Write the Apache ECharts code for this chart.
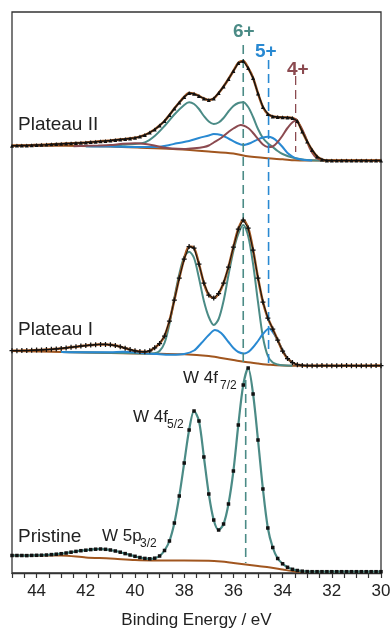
<!DOCTYPE html>
<html>
<head>
<meta charset="utf-8">
<script src="https://cdn.jsdelivr.net/npm/echarts@6/dist/echarts.min.js"></script>
<style>
  html, body { margin: 0; padding: 0; background: #fff; }
  #chart { width: 390px; height: 628px; }
</style>
</head>
<body>
<div id="chart"></div>
<script>
// binding energy grid of the measured points (eV)
const energy = [45, 44.8, 44.6, 44.4, 44.2, 44, 43.8, 43.6, 43.4, 43.2,
  43, 42.8, 42.6, 42.4, 42.2, 42, 41.8, 41.6, 41.4, 41.2,
  41, 40.8, 40.6, 40.4, 40.2, 40, 39.8, 39.6, 39.4, 39.2,
  39, 38.8, 38.6, 38.4, 38.2, 38, 37.8, 37.6, 37.4, 37.2,
  37, 36.8, 36.6, 36.4, 36.2, 36, 35.8, 35.6, 35.4, 35.2,
  35, 34.8, 34.6, 34.4, 34.2, 34, 33.8, 33.6, 33.4, 33.2,
  33, 32.8, 32.6, 32.4, 32.2, 32, 31.8, 31.6, 31.4, 31.2,
  31, 30.8, 30.6, 30.4, 30.2, 30]

// measured intensities (offset, arb. units)
const plateau2Counts = [427.3, 427.4, 427.5, 427.6, 427.8, 428.0, 428.2, 428.4, 428.7, 429.0,
  429.2, 429.5, 429.7, 430.0, 430.2, 430.5, 430.9, 431.3, 431.7, 432.1,
  432.5, 433.0, 433.5, 434.0, 434.6, 435.2, 436.4, 438.0, 440.5, 443.5,
  447.5, 452.0, 458.0, 464.5, 470.5, 476.0, 480.0, 479.2, 477.0, 474.5,
  473.0, 474.5, 480.0, 486.5, 494.0, 502.0, 510.0, 512.0, 505.0, 495.0,
  479.5, 466.0, 459.0, 456.5, 456.0, 455.7, 455.5, 455.0, 452.0, 441.5,
  431.5, 423.0, 416.5, 413.5, 412.5, 412.5, 412.4, 412.6, 412.5, 412.4,
  412.5, 412.6, 412.5, 412.4, 412.5, 412.5]

const plateau1Counts = [222.3, 222.3, 222.4, 222.5, 222.7, 222.9, 223.1, 223.4, 223.7, 224.1,
  224.6, 225.1, 225.7, 226.3, 226.9, 227.4, 227.9, 228.3, 228.6, 228.6,
  228.2, 227.4, 226.3, 224.8, 223.4, 222.2, 221.4, 221.2, 222.2, 225.2,
  229.5, 237.0, 252.0, 273.0, 295.0, 314.0, 326.5, 325.0, 309.0, 290.0,
  278.0, 275.0, 279.5, 290.0, 306.0, 326.0, 344.0, 353.0, 345.0, 323.0,
  295.0, 271.0, 255.0, 244.0, 233.0, 222.0, 214.5, 210.5, 208.3, 207.6,
  207.3, 207.3, 207.2, 207.4, 207.3, 207.3, 207.2, 207.3, 207.4, 207.3,
  207.3, 207.2, 207.3, 207.3, 207.4, 207.3]

const pristineCounts = [17.5, 17.5, 17.5, 17.4, 17.6, 17.7, 17.8, 18.0, 18.4, 18.8,
  19.3, 20.0, 20.8, 21.6, 22.3, 22.8, 23.4, 23.8, 24.0, 23.7,
  23.0, 22.0, 20.8, 19.4, 18.0, 16.7, 15.5, 14.6, 14.2, 14.8,
  17.0, 22.5, 32.0, 50.0, 77.0, 110.0, 143.0, 162.0, 152.0, 116.0,
  79.0, 53.0, 43.0, 49.0, 69.0, 102.0, 148.0, 188.0, 205.0, 179.0,
  133.0, 84.0, 45.0, 25.5, 14.5, 9.2, 5.7, 3.7, 2.5, 1.8,
  1.4, 1.3, 1.3, 1.3, 1.3, 1.3, 1.3, 1.3, 1.3, 1.3,
  1.3, 1.3, 1.3, 1.3, 1.3, 1.3]

// fitted components [energy, intensity]
const plateau2Bg = [[45, 427.5], [43, 427.2], [41, 426.5], [39.5, 425], [38.3, 423.7], [37, 421.5],
  [36, 419.5], [35.5, 417], [34.6, 414.7], [34, 413.7], [33.5, 412.7], [33, 412.5], [30, 412.5]]
const plateau2W6 = [[42, 426.7], [41, 427.2], [40.5, 428.2], [40, 429], [39.6, 430.5], [39.2, 437],
  [38.8, 447], [38.4, 458.5], [38, 468], [37.8, 470.7], [37.6, 469], [37.4, 464], [37.2, 457],
  [37, 451.5], [36.8, 449], [36.6, 450.5], [36.4, 455], [36.2, 461.5], [36, 467], [35.8, 470],
  [35.6, 470.7], [35.4, 466], [35.2, 456], [35, 444], [34.8, 435], [34.6, 429.7], [34.4, 426],
  [34.2, 422], [34, 419], [33.6, 415.5], [33.2, 413.5], [32.8, 412.7], [32, 412.5]]
const plateau2W5 = [[42, 426.7], [41, 426.5], [40, 426], [39, 426.3], [38.6, 428], [38.3, 429.7],
  [37.8, 432], [37.4, 435], [37, 437.5], [36.8, 439], [36.5, 438], [36.2, 434.5], [35.9, 430.5],
  [35.6, 428], [35.3, 430], [35, 433.7], [34.8, 435.5], [34.6, 436.3], [34.4, 435], [34.2, 431.3],
  [34, 426], [33.8, 420], [33.6, 416.5], [33.4, 414.2], [33.1, 413], [32.8, 412.5]]
const plateau2W4 = [[42.5, 426.8], [41.5, 427.5], [41, 428], [40.5, 429.2], [40, 429.8], [39.5, 428.8],
  [39, 426.3], [38.5, 424.5], [38, 424], [37.6, 424.7], [37.2, 426], [37, 427.5], [36.8, 430.5],
  [36.5, 435], [36.2, 441], [36, 444.5], [35.7, 448], [35.4, 445], [35.2, 440], [35, 434],
  [34.8, 428.5], [34.6, 426], [34.4, 426.5], [34.2, 431], [34, 437.5], [33.8, 445], [33.5, 452],
  [33.3, 448], [33.1, 438], [32.9, 425], [32.7, 417], [32.5, 413.5], [32.3, 412.5]]

const plateau1Bg = [[45, 222], [43, 221], [41, 220], [39, 219.2], [38, 218.8], [37, 217], [36.5, 215],
  [36, 213], [35.5, 211], [35, 209.5], [34.5, 208.2], [34, 207.5], [33.5, 207.3], [30, 207.3]]
const plateau1W6 = [[43, 221], [41, 220.2], [40, 219.8], [39.4, 219.4], [39.2, 219.7], [39, 222],
  [38.8, 230], [38.6, 249], [38.4, 275], [38.2, 299], [38, 316], [37.8, 321.3], [37.6, 315],
  [37.4, 295], [37.2, 272], [37, 256], [36.8, 248], [36.6, 254], [36.4, 272], [36.2, 298],
  [36, 322], [35.8, 339], [35.6, 348], [35.4, 337], [35.2, 309], [35, 271], [34.8, 236],
  [34.6, 217], [34.4, 210.5], [34.2, 208.5], [34, 207.7], [33.6, 207.3]]
const plateau1W5 = [[43, 221], [42, 220.7], [41, 220.7], [40.5, 221.2], [40, 220.7], [39.5, 219.5],
  [39, 218.8], [38.5, 218.2], [38, 219], [37.6, 222.5], [37.3, 230], [37, 238], [36.75, 243],
  [36.5, 240], [36.2, 231], [36, 225], [35.8, 221], [35.56, 219.5], [35.3, 223], [35, 232],
  [34.8, 239], [34.55, 244.5], [34.3, 237], [34, 223], [33.8, 214.5], [33.5, 209], [33.2, 207.5],
  [32.8, 207.3]]

const pristineBg = [[45, 17.5], [43.5, 17.5], [43, 17.5], [42, 15.5], [41, 14.5], [40, 13], [39, 12.5],
  [37, 12.3], [36.5, 11.5], [36, 10], [35.5, 8.5], [35, 7], [34.5, 5.5], [34, 3.5], [33.5, 1.6],
  [33, 1.3], [30, 1.3]]

// oxidation state reference lines
const stateNames = ['6+', '5+', '4+']
const stateEnergy = [35.6, 34.57, 33.47]
const stateTop = [528, 513, 497]
const stateBottom = [207, 208, 421]
const pristineLine = [[35.5, 193], [35.5, 10]]

const teal = '#4b8b86'
const blue = '#2989d2'
const wine = '#8b4a50'
const brown = '#a1561f'
const ink = '#222'
const font = 'Liberation Sans, Arial, Helvetica, sans-serif'

const pairs = (vals) => energy.map((e, i) => [e, vals[i]])

function comp(data, color, width) {
  return {
    type: 'line', data, smooth: 0.3, symbol: 'none', silent: true,
    lineStyle: { color, width: width || 2 }
  }
}

function points(vals, symbol, size, lineWidth) {
  return {
    type: 'line', data: pairs(vals), symbol, symbolSize: size, showAllSymbol: true,
    itemStyle: { color: '#111' }, silent: true, z: 5,
    lineStyle: { color: '#111', width: lineWidth, opacity: lineWidth ? 1 : 0 }
  }
}

function dashed(data, color, dash, width) {
  return {
    type: 'line', data, symbol: 'none', silent: true, z: 4,
    lineStyle: { color, width: width || 1.6, type: dash }
  }
}

const series = [
  // Plateau II
  comp(plateau2Bg, brown),
  comp(plateau2W6, teal),
  comp(plateau2W5, blue),
  comp(plateau2W4, wine),
  comp(pairs(plateau2Counts), brown, 2.5),
  points(plateau2Counts, 'triangle', 4, 1.3),
  // Plateau I
  comp(plateau1Bg, brown),
  comp(plateau1W6, teal),
  comp(plateau1W5, blue),
  comp(pairs(plateau1Counts), brown, 2.5),
  points(plateau1Counts, 'path://M3,0H5V3H8V5H5V8H3V5H0V3H3Z', 5, 1),
  // Pristine
  comp(pristineBg, brown),
  comp(pairs(pristineCounts), teal, 2.2),
  points(pristineCounts, 'rect', 3.5, 0),
  // reference lines
  dashed([[stateEnergy[0], stateTop[0]], [stateEnergy[0], stateBottom[0]]], teal, [9, 5]),
  dashed([[stateEnergy[1], stateTop[1]], [stateEnergy[1], stateBottom[1]]], blue, [9, 5]),
  dashed([[stateEnergy[2], stateTop[2]], [stateEnergy[2], stateBottom[2]]], wine, [9, 5], 1.3),
  dashed(pristineLine, teal, [9, 5])
]

function label(text, x, y, size, color, weight) {
  return {
    type: 'text', x, y, silent: true,
    style: { text, fill: color || ink, fontSize: size, fontWeight: weight || 'normal',
      fontFamily: font, verticalAlign: 'middle', align: 'left' }
  }
}

const stateColors = [teal, blue, wine]
const stateLabelPos = [[233, 32], [255, 52], [287, 70]]

const chart = echarts.init(document.getElementById('chart'))
chart.setOption({
  animation: false,
  backgroundColor: '#fff',
  grid: {
    left: 12, right: 9, top: 12, bottom: 55, show: true, borderColor: '#333', borderWidth: 1.3,
    containLabel: false, outerBoundsMode: 'none'
  },
  xAxis: {
    type: 'value', min: 30, max: 45, interval: 0.5, inverse: true,
    name: 'Binding Energy / eV', nameLocation: 'middle', nameGap: 39,
    nameTextStyle: { fontSize: 17, color: ink, fontFamily: font },
    axisLine: { lineStyle: { color: '#333', width: 1.3 } },
    axisTick: { length: 5, lineStyle: { color: '#333', width: 1.2 } },
    axisLabel: {
      fontSize: 17, color: ink, fontFamily: font, margin: 10,
      formatter: (v) => (v % 2 === 0 ? String(v) : '')
    },
    splitLine: { show: false }
  },
  yAxis: { type: 'value', min: 0, max: 561, show: false },
  series,
  graphic: [
    label('Plateau II', 18, 125, 19),
    label('Plateau I', 18, 330, 19),
    label('Pristine', 18, 537, 19),
    label('W 5p', 102, 536, 17),
    label('3/2', 140, 544, 12),
    label('W 4f', 133, 417, 17),
    label('5/2', 167, 425, 12),
    label('W 4f', 183, 378, 17),
    label('7/2', 220, 386, 12)
  ].concat(stateNames.map((s, i) =>
    label(s, stateLabelPos[i][0], stateLabelPos[i][1], 19, stateColors[i], 'bold')))
})
</script>
</body>
</html>
